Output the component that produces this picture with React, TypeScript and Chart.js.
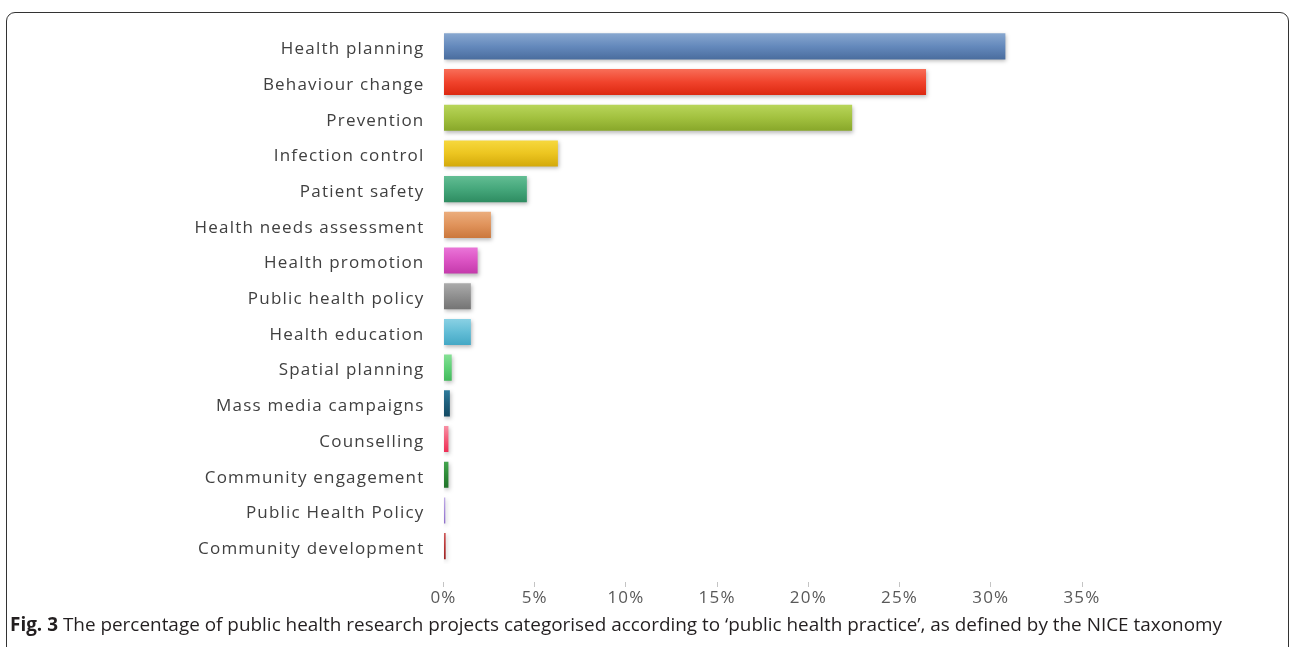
import React, { useEffect, useLayoutEffect, useRef } from "react";
import { Chart, registerables } from "chart.js";

Chart.register(...registerables);

const categories = [
  "Health planning",
  "Behaviour change",
  "Prevention",
  "Infection control",
  "Patient safety",
  "Health needs assessment",
  "Health promotion",
  "Public health policy",
  "Health education",
  "Spatial planning",
  "Mass media campaigns",
  "Counselling",
  "Community engagement",
  "Public Health Policy",
  "Community development",
];

const values = [30.8, 26.45, 22.4, 6.27, 4.57, 2.6, 1.87, 1.5, 1.5, 0.45, 0.35, 0.27, 0.27, 0.1, 0.12];

const xTickValues = [0, 5, 10, 15, 20, 25, 30, 35];

const barTopColors = [
  "#88a7cf", "#f86e58", "#b8d55a", "#f6d83e", "#62bd93", "#ebad7c", "#ea75d8", "#ababab",
  "#8ad1e4", "#85e095", "#2e7b9c", "#f890a4", "#44a54f", "#c1aee6", "#cf5a5a",
];
const barMidColors = [
  "#6489bc", "#f0432c", "#a2c13f", "#ecc520", "#45a77b", "#e0935b", "#db53c3", "#8f8f8f",
  "#63bdd6", "#5fd177", "#1f5f7c", "#f45b79", "#2e8b38", "#a78bdb", "#b83434",
];
const barBottomColors = [
  "#4a6d9e", "#dc2810", "#88a72a", "#d3a90b", "#2e8c61", "#cb783d", "#c43aab", "#747474",
  "#44a8c5", "#43ba5c", "#134962", "#ee2d54", "#21722a", "#8e6fca", "#9a2323",
];

const BAR_PCT = 0.73;

const shadowPlugin = {
  id: "barShadow",
  beforeDatasetsDraw(chart: any) {
    const ctx = chart.ctx;
    ctx.save();
    ctx.shadowColor = "rgba(0,0,0,0.28)";
    ctx.shadowBlur = 4;
    ctx.shadowOffsetX = 1;
    ctx.shadowOffsetY = 2;
  },
  afterDatasetsDraw(chart: any) {
    chart.ctx.restore();
  },
};

const spacingPlugin = {
  id: "letterSpacing",
  beforeDraw(chart: any) {
    (chart.ctx as any).letterSpacing = "1.2px";
  },
  afterDraw(chart: any) {
    (chart.ctx as any).letterSpacing = "0px";
  },
};

function ChartView() {
  const canvasRef = useRef<HTMLCanvasElement | null>(null);

  useEffect(() => {
    if (!canvasRef.current) return;
    const chart = new Chart(canvasRef.current, {
      type: "bar",
      data: {
        labels: categories,
        datasets: [
          {
            data: values,
            backgroundColor: (c: any) => {
              const i = c.dataIndex;
              if (i === undefined) return barMidColors[0];
              const ch = c.chart;
              const ys = ch.scales && ch.scales.y;
              if (!ch.chartArea || !ys) return barMidColors[i];
              const yc = ys.getPixelForValue(i);
              const half = ((ys.bottom - ys.top) / categories.length) * BAR_PCT / 2;
              if (!isFinite(yc) || !isFinite(half) || half <= 0) return barMidColors[i];
              const g = ch.ctx.createLinearGradient(0, yc - half, 0, yc + half);
              g.addColorStop(0, barTopColors[i]);
              g.addColorStop(0.5, barMidColors[i]);
              g.addColorStop(1, barBottomColors[i]);
              return g;
            },
            borderWidth: 0,
            barPercentage: BAR_PCT,
            categoryPercentage: 1,
          },
        ],
      },
      options: {
        indexAxis: "y",
        animation: false,
        responsive: false,
        devicePixelRatio: 1,
        layout: { padding: { left: 0, top: 28.5, right: 208, bottom: 0 } },
        plugins: {
          legend: { display: false },
          tooltip: { enabled: false },
          title: { display: false },
        },
        scales: {
          x: {
            min: 0,
            max: 35,
            afterFit: (s: any) => {
              s.height = 612 - 564;
            },
            afterBuildTicks: (s: any) => {
              s.ticks = xTickValues.map((v) => ({ value: v }));
            },
            border: { display: false },
            grid: {
              drawOnChartArea: false,
              drawTicks: true,
              tickLength: 24,
              tickColor: "#c4c4c4",
              tickWidth: 1,
              tickBorderDash: [0, 18, 5, 100],
            },
            ticks: {
              autoSkip: false,
              maxRotation: 0,
              padding: 0,
              color: "#595959",
              font: { family: "Open Sans", size: 17 },
              callback: (v: any) => v + "%",
            },
          },
          y: {
            afterFit: (s: any) => {
              s.width = 443.5;
            },
            border: { display: false },
            grid: { display: false },
            ticks: {
              autoSkip: false,
              padding: 11,
              labelOffset: 3,
              color: "#404040",
              font: { family: "Open Sans", size: 17 },
            },
          },
        },
      },
      plugins: [shadowPlugin, spacingPlugin],
    });
    return () => chart.destroy();
  }, []);

  return <canvas ref={canvasRef} width={1290} height={612} style={{ position: "absolute", left: 0, top: 0 }} />;
}

function Caption() {
  const ref = useRef<HTMLSpanElement | null>(null);
  useLayoutEffect(() => {
    const el = ref.current;
    if (!el) return;
    const w = el.getBoundingClientRect().width;
    if (w > 0) {
      el.style.transform = `scaleX(${1212 / w})`;
    }
  }, []);
  return (
    <div
      style={{
        position: "absolute",
        left: 10,
        top: 611,
        height: 26,
        lineHeight: "26px",
        whiteSpace: "nowrap",
        fontFamily: "'Open Sans', sans-serif",
        fontSize: 19,
        color: "#231f20",
      }}
    >
      <span ref={ref} style={{ display: "inline-block", transformOrigin: "left center" }}>
        <b>Fig. 3</b> The percentage of public health research projects categorised according to ‘public health practice’, as defined by the NICE taxonomy
      </span>
    </div>
  );
}

export default function App() {
  return (
    <div
      style={{
        position: "fixed",
        left: 0,
        top: 0,
        width: 1290,
        height: 647,
        overflow: "hidden",
        background: "#ffffff",
      }}
    >
      <div
        style={{
          position: "absolute",
          left: 6,
          top: 12,
          width: 1283,
          height: 700,
          boxSizing: "border-box",
          border: "1.5px solid #333",
          borderRadius: 9,
        }}
      />
      <ChartView />
      <Caption />
    </div>
  );
}
